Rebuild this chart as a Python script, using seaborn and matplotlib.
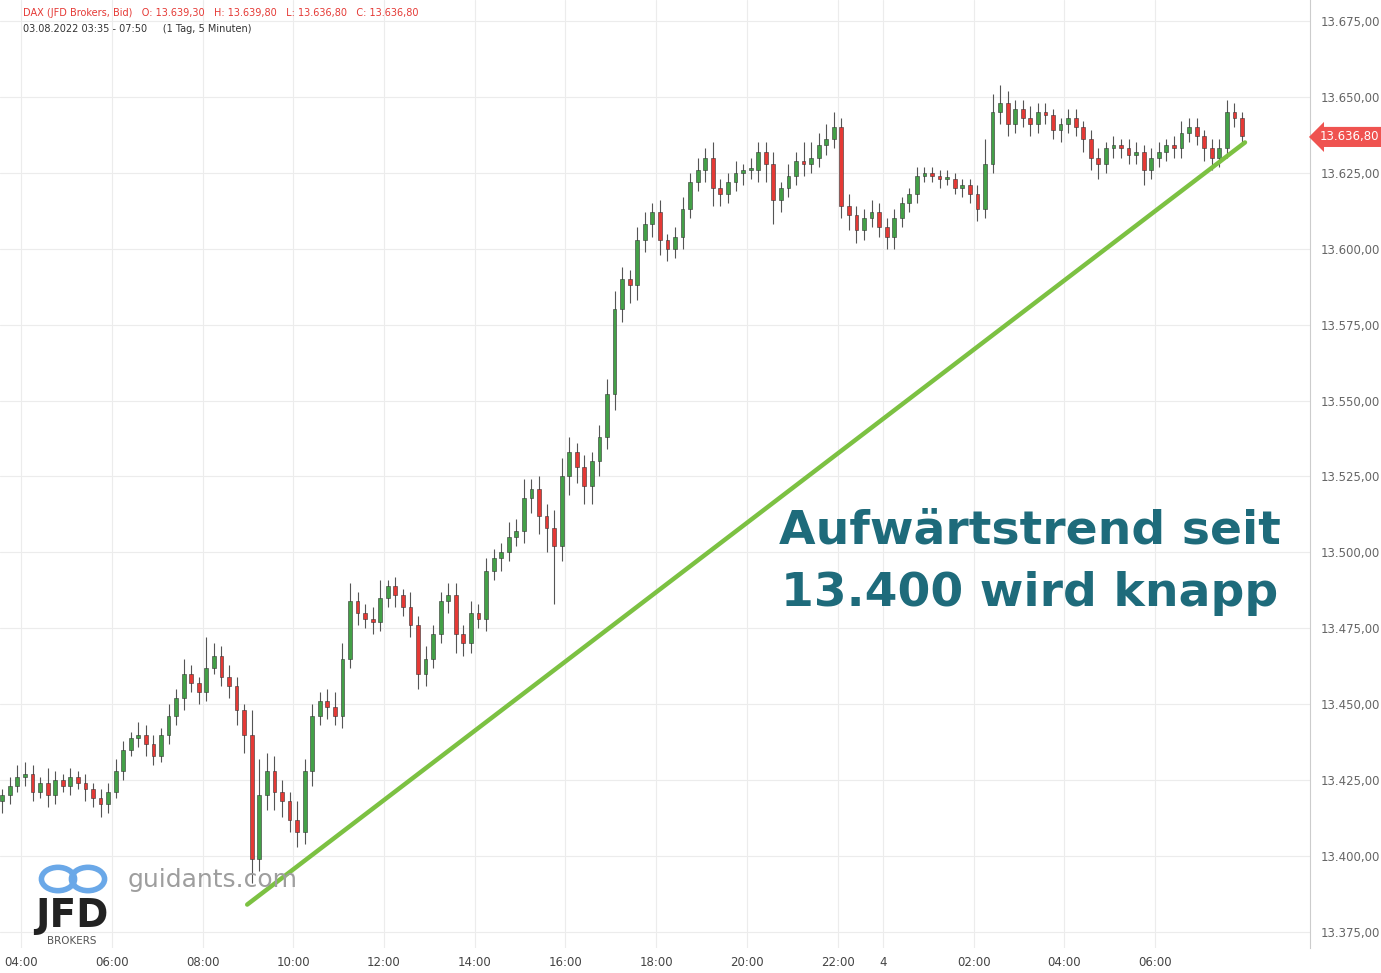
import numpy as np
import pandas as pd
import matplotlib
matplotlib.use("Agg")
import matplotlib.pyplot as plt
import matplotlib.transforms as mtrans
import seaborn as sns

# 10-minute closes (03:35 on 03.08 -> 07:50 next day)
closes = [
    13420, 13423, 13426, 13427, 13421, 13424, 13420, 13425, 13423, 13426, 13424, 13422,
    13419, 13417, 13421, 13428, 13435, 13439, 13440, 13437, 13433, 13440, 13446, 13452,
    13460, 13457, 13454, 13462, 13466, 13459, 13456, 13448, 13440, 13399, 13420, 13428,
    13421, 13418, 13412, 13408, 13428, 13446, 13451, 13449, 13446, 13465, 13484, 13480,
    13478, 13477, 13485, 13489, 13486, 13482, 13476, 13460, 13465, 13473, 13484, 13486,
    13473, 13470, 13480, 13478, 13494, 13498, 13500, 13505, 13507, 13518, 13521, 13512,
    13508, 13502, 13525, 13533, 13528, 13522, 13530, 13538, 13552, 13580, 13590, 13588,
    13603, 13608, 13612, 13603, 13600, 13604, 13613, 13622, 13626, 13630, 13620, 13618,
    13622, 13625, 13626, 13626, 13632, 13628, 13616, 13620, 13624, 13629, 13628, 13630,
    13634, 13636, 13640, 13614, 13611, 13606, 13610, 13612, 13607, 13604, 13610, 13615,
    13618, 13624, 13625, 13624, 13623, 13623, 13620, 13621, 13618, 13613, 13628, 13645,
    13648, 13641, 13646, 13643, 13641, 13645, 13644, 13639, 13641, 13643, 13640, 13636,
    13630, 13628, 13633, 13634, 13633, 13631, 13632, 13626, 13630, 13632, 13634, 13633,
    13638, 13640, 13637, 13633, 13630, 13633, 13645, 13643, 13637,
]
first_open = 13418
# wick lengths above / below the candle body (points)
wick_up = [
    2, 3, 4, 4, 3, 2, 5, 3, 2, 3, 2, 3,
    2, 3, 3, 4, 3, 2, 4, 3, 3, 2, 4, 3,
    5, 3, 2, 10, 4, 3, 4, 3, 2, 8, 12, 6,
    5, 4, 3, 6, 4, 4, 3, 4, 5, 5, 6, 3,
    3, 4, 6, 2, 3, 2, 5, 3, 4, 3, 3, 4,
    4, 3, 4, 3, 4, 3, 3, 5, 4, 6, 3, 4,
    4, 6, 6, 5, 3, 4, 3, 4, 5, 6, 4, 3,
    4, 4, 3, 4, 2, 3, 4, 3, 4, 3, 5, 3,
    3, 4, 2, 4, 3, 3, 4, 2, 4, 3, 6, 5,
    4, 5, 5, 3, 4, 3, 3, 4, 3, 3, 3, 2,
    2, 3, 2, 2, 2, 3, 2, 2, 2, 3, 8, 6,
    6, 4, 3, 3, 4, 3, 3, 2, 2, 3, 3, 2,
    3, 3, 2, 3, 2, 3, 3, 2, 3, 3, 2, 3,
    4, 3, 3, 2, 3, 3, 4, 3, 2,
]
wick_dn = [
    4, 3, 2, 3, 3, 2, 4, 3, 2, 3, 2, 4,
    3, 4, 3, 2, 3, 2, 3, 4, 3, 2, 3, 3,
    4, 3, 4, 3, 2, 3, 4, 5, 6, 8, 4, 5,
    6, 5, 4, 5, 4, 5, 3, 4, 3, 4, 3, 4,
    3, 4, 3, 3, 4, 3, 4, 5, 4, 3, 3, 4,
    6, 4, 3, 3, 4, 3, 4, 3, 3, 4, 5, 6,
    8, 19, 5, 6, 5, 6, 6, 5, 4, 5, 4, 6,
    5, 4, 4, 5, 4, 3, 4, 3, 3, 4, 6, 4,
    3, 3, 4, 3, 4, 6, 8, 4, 3, 3, 4, 3,
    3, 3, 3, 4, 5, 4, 3, 3, 3, 4, 4, 3,
    3, 3, 2, 2, 3, 2, 2, 3, 3, 4, 3, 3,
    4, 4, 3, 3, 4, 3, 3, 3, 4, 3, 3, 4,
    4, 5, 3, 3, 3, 3, 3, 5, 3, 3, 3, 3,
    3, 3, 3, 4, 4, 3, 3, 3, 2,
]

tick_pos = [2.5, 14.5, 26.5, 38.5, 50.5, 62.5, 74.5, 86.5, 98.5, 110.5, 116.5, 128.5, 140.5, 152.5]
tick_lab = ["04:00", "06:00", "08:00", "10:00", "12:00", "14:00", "16:00", "18:00",
            "20:00", "22:00", "4", "02:00", "04:00", "06:00"]
y_ticks = [13375, 13400, 13425, 13450, 13475, 13500, 13525, 13550, 13575, 13600, 13625, 13650, 13675]
trend_x = [32.4, 164.4]
trend_y = [13384, 13635]
last_price = 13636.8

df = pd.DataFrame({"close": closes})
df["open"] = [first_open] + closes[:-1]
df["high"] = df[["open", "close"]].max(axis=1) + np.array(wick_up)
df["low"] = df[["open", "close"]].min(axis=1) - np.array(wick_dn)
df["idx"] = np.arange(len(df))
up = df["close"] >= df["open"]

sns.set_style("white")
fig = plt.figure(figsize=(13.81, 9.73), dpi=100)
ax = fig.add_axes([0, 0.026, 1310 / 1381, 0.974])

green, red = "#43a047", "#e53935"
cols = np.where(up, green, red)
ax.vlines(df["idx"], df["low"], df["high"], colors="#555555", lw=0.8, zorder=2)
ax.bar(df["idx"], (df["close"] - df["open"]).abs().clip(lower=0.6),
       bottom=df[["open", "close"]].min(axis=1), width=0.5, color=cols,
       edgecolor="#333333", lw=0.4, zorder=3)

sns.lineplot(x=trend_x, y=trend_y, ax=ax, color="#7cc142", lw=3.2, zorder=4)

ax.set_xlim(-0.3, 173.0)
ax.set_ylim(13369.8, 13681.9)
ax.set_xticks(tick_pos)
ax.set_xticklabels(tick_lab, fontsize=8.5, color="#444444")
ax.set_yticks(y_ticks)
ax.set_yticklabels([f"{v // 1000}.{v % 1000:03d},00" for v in y_ticks], fontsize=8.5, color="#666666")
ax.yaxis.tick_right()
ax.tick_params(length=0, pad=8)
ax.tick_params(axis="x", pad=6)
ax.grid(True, color="#ececec", lw=0.8)
for s in ["top", "left", "bottom"]:
    ax.spines[s].set_visible(False)
ax.spines["right"].set_color("#cccccc")

tr = mtrans.blended_transform_factory(ax.transAxes, ax.transData)
ax.text(1.0 + 10 / 1310, last_price, "13.636,80", transform=tr, fontsize=8.5, color="white",
        va="center", ha="left",
        bbox=dict(boxstyle="larrow,pad=0.3", fc="#ef5350", ec="none"))

ax.text(0.786, 0.407, "Aufwärtstrend seit\n13.400 wird knapp", transform=ax.transAxes,
        fontsize=34, fontweight="bold", color="#1e6b7b", ha="center", va="center",
        linespacing=1.5)

fig.text(23 / 1381, 1 - 13 / 973, "DAX (JFD Brokers, Bid)   O: 13.639,30   H: 13.639,80   L: 13.636,80   C: 13.636,80",
         fontsize=7, color="#e53935", va="center")
fig.text(23 / 1381, 1 - 29 / 973, "03.08.2022 03:35 - 07:50     (1 Tag, 5 Minuten)",
         fontsize=7, color="#333333", va="center")
fig.text(128 / 1381, 1 - 880 / 973, "guidants.com", fontsize=18, color="#9e9e9e", va="center")
fig.text(72 / 1381, 1 - 916 / 973, "JFD", fontsize=28, fontweight="bold", color="#222222",
         va="center", ha="center")
fig.text(72 / 1381, 1 - 941 / 973, "BROKERS", fontsize=7.5, color="#555555", va="center", ha="center")
for cx in [58, 88]:
    fig.patches.append(plt.Circle((cx / 1381, 1 - 879 / 973), 0.012, transform=fig.transFigure,
                                  fill=False, ec="#6aa8e8", lw=4))

fig.savefig("out.png", dpi=100)
